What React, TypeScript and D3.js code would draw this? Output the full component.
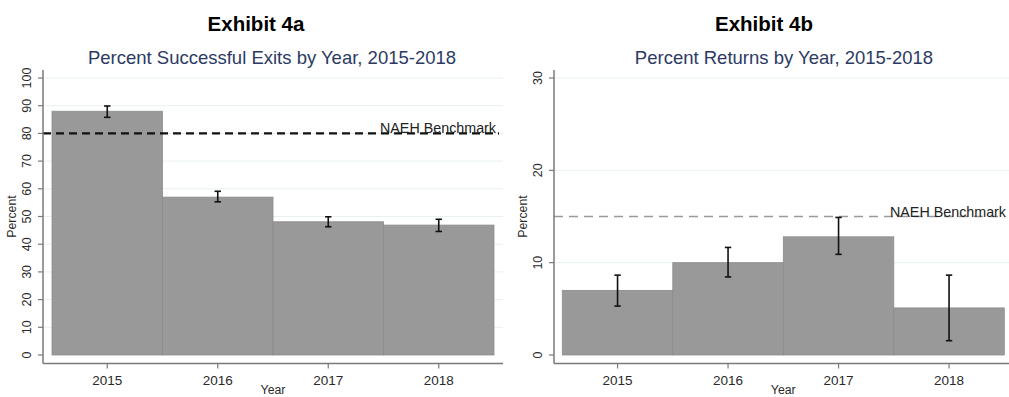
import React from "react";
import * as d3 from "d3";

// Exhibit 4a – successful exits
const years = ["2015", "2016", "2017", "2018"];
const exitsPct = [88, 57, 48.1, 46.9];
const exitsLow = [85.8, 55.3, 46.3, 44.6];
const exitsHigh = [89.9, 59.1, 49.9, 49.0];
const exitsTicks = [0, 10, 20, 30, 40, 50, 60, 70, 80, 90, 100];
const exitsBenchmark = 80;

// Exhibit 4b – returns
const returnsPct = [7.0, 10.0, 12.8, 5.1];
const returnsLow = [5.3, 8.45, 10.9, 1.55];
const returnsHigh = [8.65, 11.65, 14.9, 8.65];
const returnsTicks = [0, 10, 20, 30];
const returnsBenchmark = 15;

const FONT = "'Liberation Sans', Arial, sans-serif";

type PanelProps = {
  exhibit: string;
  title: string;
  values: number[];
  low: number[];
  high: number[];
  ticks: number[];
  yMax: number;
  benchmark: number;
  axisX: number;
  barLeft: number;
  barRight: number;
  plotRight: number;
  labelX: number;
  titleX: number;
  exhibitX: number;
  dashColor: string;
  dashWidth: number;
  dashArray: string;
  errWidth: number;
};

function Panel(p: PanelProps) {
  const y = d3.scaleLinear().domain([0, p.yMax]).range([355, 78]);
  const x = d3.scaleBand<string>().domain(years).range([p.barLeft, p.barRight]).paddingInner(0).paddingOuter(0);
  const xAxisY = 363.5;
  const bw = x.bandwidth();
  const midY = (y(0) + y(p.yMax)) / 2;
  return (
    <g fontFamily={FONT}>
      <text x={p.exhibitX} y={31} textAnchor="middle" fontWeight="bold" fontSize={20.5} fill="#000">
        {p.exhibit}
      </text>
      <text x={p.titleX} y={64} textAnchor="middle" fontSize={18.5} fill="#2c3a63">
        {p.title}
      </text>
      {/* gridlines */}
      {p.ticks.filter((t) => t > 0).map((t) => (
        <line key={"g" + t} x1={p.axisX} x2={p.plotRight} y1={y(t)} y2={y(t)} stroke="#e9f0f1" strokeWidth={1} />
      ))}
      {/* bars */}
      {years.map((yr, i) => (
        <rect
          key={"b" + yr}
          x={x(yr)!}
          y={y(p.values[i])}
          width={bw}
          height={y(0) - y(p.values[i])}
          fill="#999999"
          stroke="#8c8c8c"
          strokeWidth={0.8}
        />
      ))}
      {/* benchmark */}
      <line
        x1={p.axisX}
        x2={p.plotRight - 4}
        y1={y(p.benchmark)}
        y2={y(p.benchmark)}
        stroke={p.dashColor}
        strokeWidth={p.dashWidth}
        strokeDasharray={p.dashArray}
      />
      <text x={p.labelX} y={y(p.benchmark)} fontSize={14.3} fill="#222">
        NAEH Benchmark
      </text>
      {/* error bars */}
      {years.map((yr, i) => {
        const cx = x(yr)! + bw / 2;
        return (
          <g key={"e" + yr} stroke="#111" strokeWidth={p.errWidth}>
            <line x1={cx} x2={cx} y1={y(p.high[i])} y2={y(p.low[i])} />
            <line x1={cx - 3.2} x2={cx + 3.2} y1={y(p.high[i])} y2={y(p.high[i])} />
            <line x1={cx - 3.2} x2={cx + 3.2} y1={y(p.low[i])} y2={y(p.low[i])} />
          </g>
        );
      })}
      {/* y axis */}
      <line x1={p.axisX} x2={p.axisX} y1={y(p.yMax) - 8} y2={xAxisY} stroke="#7a7a7a" strokeWidth={1.5} />
      {p.ticks.map((t) => (
        <g key={"t" + t}>
          <line x1={p.axisX - 5} x2={p.axisX} y1={y(t)} y2={y(t)} stroke="#7a7a7a" strokeWidth={1.2} />
          <text
            transform={`translate(${p.axisX - 12},${y(t)}) rotate(-90)`}
            textAnchor="middle"
            fontSize={12.5}
            fill="#2a2a2a"
          >
            {t}
          </text>
        </g>
      ))}
      <text
        transform={`translate(${p.axisX - 27},${midY}) rotate(-90)`}
        textAnchor="middle"
        fontSize={12.3}
        fill="#2a2a2a"
      >
        Percent
      </text>
      {/* x axis */}
      <line x1={p.axisX} x2={p.plotRight} y1={xAxisY} y2={xAxisY} stroke="#7a7a7a" strokeWidth={1.5} />
      {years.map((yr) => {
        const cx = x(yr)! + bw / 2;
        return (
          <g key={"x" + yr}>
            <line x1={cx} x2={cx} y1={xAxisY} y2={xAxisY + 5} stroke="#7a7a7a" strokeWidth={1.2} />
            <text x={cx} y={385} textAnchor="middle" fontSize={13.5} fill="#2a2a2a">
              {yr}
            </text>
          </g>
        );
      })}
      <text x={(p.barLeft + p.barRight) / 2} y={394} textAnchor="middle" fontSize={12.3} fill="#2a2a2a">
        Year
      </text>
    </g>
  );
}

export default function App() {
  return (
    <svg
      width={1009}
      height={397}
      style={{ position: "absolute", left: 0, top: 0, background: "#fff", display: "block" }}
    >
      <rect width={1009} height={397} fill="#fff" />
      <Panel
        exhibit="Exhibit 4a"
        title="Percent Successful Exits by Year, 2015-2018"
        values={exitsPct}
        low={exitsLow}
        high={exitsHigh}
        ticks={exitsTicks}
        yMax={100}
        benchmark={exitsBenchmark}
        axisX={43}
        barLeft={52}
        barRight={494}
        plotRight={503}
        labelX={380}
        titleX={272}
        exhibitX={256}
        dashColor="#111"
        dashWidth={2.2}
        dashArray="8,5"
        errWidth={1.6}
      />
      <Panel
        exhibit="Exhibit 4b"
        title="Percent Returns by Year, 2015-2018"
        values={returnsPct}
        low={returnsLow}
        high={returnsHigh}
        ticks={returnsTicks}
        yMax={30}
        benchmark={returnsBenchmark}
        axisX={554}
        barLeft={562.3}
        barRight={1004.3}
        plotRight={1009}
        labelX={890}
        titleX={784}
        exhibitX={764}
        dashColor="#9a9a9a"
        dashWidth={1.6}
        dashArray="9,6"
        errWidth={1.6}
      />
    </svg>
  );
}
